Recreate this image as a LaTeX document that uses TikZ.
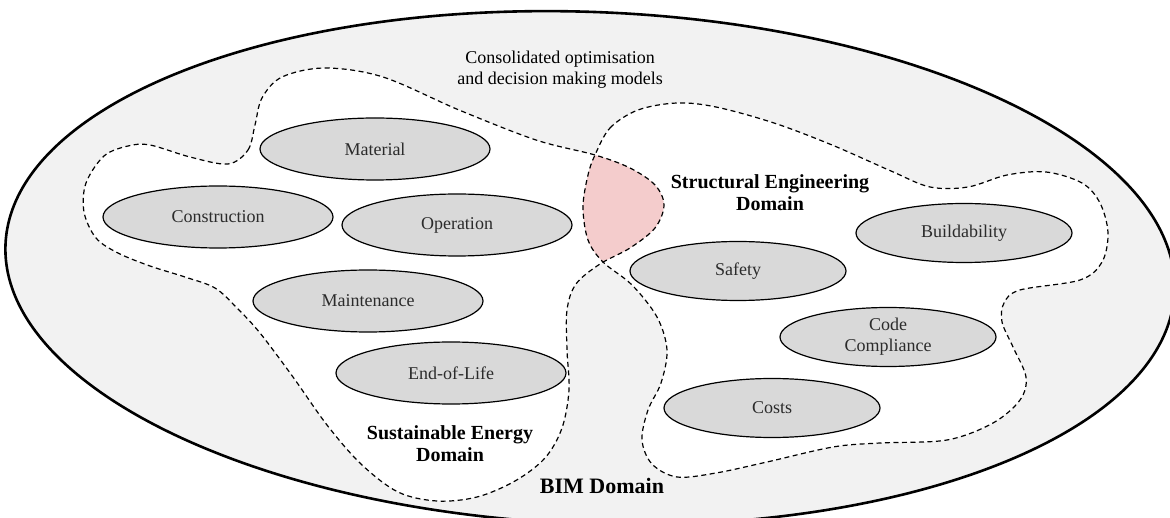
\documentclass[tikz,border=0pt]{standalone}
\usepackage{fontspec}
\setmainfont{Liberation Serif}
\usetikzlibrary{shapes.geometric}
\definecolor{bimgray}{HTML}{F2F2F2}
\definecolor{itemgray}{HTML}{D9D9D9}
\definecolor{pinkfill}{HTML}{F4CCCC}
\definecolor{txtgray}{HTML}{2B2B2B}
\newcommand\leftblobpath{plot[smooth cycle, tension=0.55] coordinates {
(228,164) (248,150) (255,125) (262,98) (282,77) (325,68) (383,77) (459,110)
(536,140) (595,155) (630,168) (655,185) (664,205) (655,228) (630,248) (600,264)
(576,284) (567,310) (567,350) (569,390) (562,428) (545,458) (515,481) (477,497)
(437,501) (398,492) (361,464) (327,425) (293,377) (260,333) (237,308) (215,288)
(185,277) (150,266) (118,253) (96,238) (84,212) (86,183) (104,156) (128,146)
(150,145) (190,157)}}
\newcommand\rightblobpath{plot[smooth cycle, tension=0.55] coordinates {
(595,155) (610,128) (638,110) (677,103) (716,107) (774,123) (832,145) (891,171)
(930,187) (968,187) (1007,175) (1046,172) (1082,183) (1100,203) (1108,233)
(1102,262) (1080,280) (1020,290) (1004,303) (1002,322) (1013,347) (1026,377)
(1020,400) (993,423) (947,440) (880,443) (833,447) (767,462) (716,473) (677,477)
(652,464) (642,440) (648,410) (661,383) (667,350) (657,317) (632,285) (603,262)
(588,240) (583,207) (588,175)}}
\begin{document}
\begin{tikzpicture}[x=1pt,y=-1pt,
  itemnode/.style={ellipse, draw=black, line width=1.2pt, fill=itemgray,
    minimum width=230pt, minimum height=62pt, inner sep=0pt,
    font=\fontsize{18}{21}\selectfont, text=txtgray, align=center},
  itemright/.style={itemnode, minimum width=216pt, minimum height=59pt},
  domlabel/.style={font=\bfseries\fontsize{20}{22}\selectfont, align=center},
  blobline/.style={dash pattern=on 5pt off 3.5pt, line width=1.2pt}]
\useasboundingbox (0,0) rectangle (1170,518);
\begin{scope}
  \clip (0,0) rectangle (1170,518);
  \draw[line width=2.6pt, fill=bimgray, rotate around={-2.3:(590,268)}]
    (590,268) ellipse [x radius=585pt, y radius=256pt];
\end{scope}
\fill[white] \leftblobpath;
\fill[white] \rightblobpath;
\begin{scope}
  \clip \leftblobpath;
  \fill[pinkfill] \rightblobpath;
\end{scope}
\draw[blobline] \leftblobpath;
\draw[blobline] \rightblobpath;
\node[font=\fontsize{18}{21}\selectfont, align=center] (title) at (560,70)
  {Consolidated optimisation\\and decision making models};
\node[domlabel] (sed) at (770,193) {Structural Engineering\\Domain};
\node[domlabel] (sus) at (450,444) {Sustainable Energy\\Domain};
\node[font=\bfseries\fontsize{22}{24}\selectfont] (bim) at (602,486) {BIM Domain};
\node[itemnode] (material) at (375,149) {Material};
\node[itemnode] (construction) at (218,217) {Construction};
\node[itemnode] (operation) at (457,225) {Operation};
\node[itemnode] (maintenance) at (368,301) {Maintenance};
\node[itemnode] (eol) at (451,373) {End-of-Life};
\node[itemright] (safety) at (738,271) {Safety};
\node[itemright] (build) at (964,233) {Buildability};
\node[itemright] (code) at (888,337) {Code\\Compliance};
\node[itemright] (costs) at (772,408) {Costs};
\end{tikzpicture}
\end{document}
